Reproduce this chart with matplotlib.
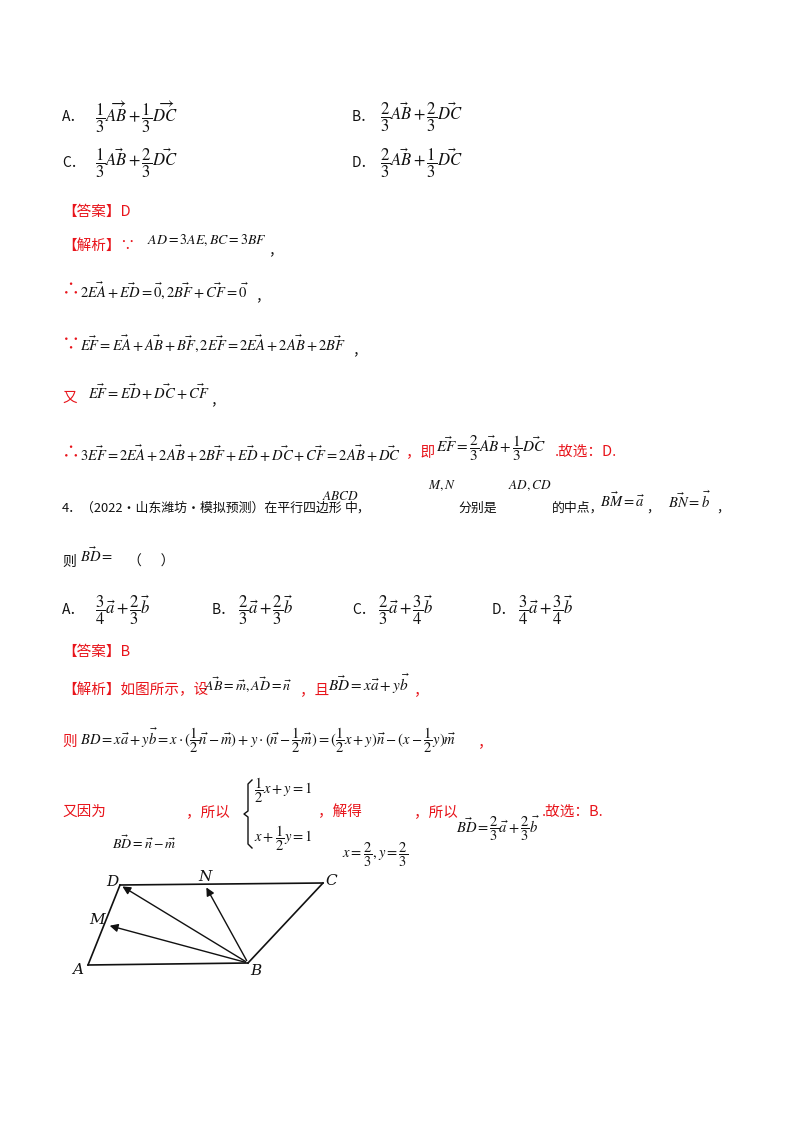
import matplotlib
matplotlib.use("Agg")
import matplotlib.pyplot as plt

plt.rcParams['font.family'] = ['Noto Sans CJK SC', 'DejaVu Sans']
plt.rcParams['mathtext.fontset'] = 'stix'

# parallelogram figure data (pixel coords of the sketch)
pt_names = ['A', 'B', 'C', 'D', 'N', 'M']
pt_x = [88, 248, 323, 120, 205, 107]
pt_y = [965, 963, 883, 885, 885, 925]
label_dx = [-10, 8, 8, -8, 0, -10]
label_dy = [5, 8, -2, -3, -8, -5]
edges = [('A', 'B'), ('B', 'C'), ('C', 'D'), ('D', 'A')]
arrows = [('B', 'D'), ('B', 'N'), ('B', 'M')]

RED = '#e8141b'
BLK = '#111111'

lines = [
    (62, 117, 'A．', BLK, 10), (352, 117, 'B．', BLK, 10),
    (62, 163, 'C．', BLK, 10), (352, 163, 'D．', BLK, 10),
    (62, 212, '【答案】D', RED, 10.5),
    (62, 246, '【解析】∵', RED, 10.5),
    (62, 290, '∴', RED, 13),
    (62, 345, '∵', RED, 13),
    (62, 398, '又', RED, 10.5),
    (62, 453, '∴', RED, 13),
    (62, 508, '4．（2022·山东潍坊·模拟预测）在平行四边形', BLK, 9.3),
    (62, 562, '则', BLK, 10),
    (62, 610, 'A．', BLK, 10), (212, 610, 'B．', BLK, 10),
    (352, 610, 'C．', BLK, 10), (492, 610, 'D．', BLK, 10),
    (62, 652, '【答案】B', RED, 10.5),
    (62, 690, '【解析】如图所示，设', RED, 10.5),
    (62, 742, '则', RED, 10.5),
    (62, 812, '又因为', RED, 10.5),
]
math_lines = [
    (95, 117, r'$\dfrac{1}{3}\overrightarrow{AB}+\dfrac{1}{3}\overrightarrow{DC}$', 12),
    (380, 117, r'$\dfrac{2}{3}\vec{AB}+\dfrac{2}{3}\vec{DC}$', 12),
    (95, 163, r'$\dfrac{1}{3}\vec{AB}+\dfrac{2}{3}\vec{DC}$', 12),
    (380, 163, r'$\dfrac{2}{3}\vec{AB}+\dfrac{1}{3}\vec{DC}$', 12),
    (147, 240, r'$AD=3AE,BC=3BF$', 10), (268, 250, '，', 10),
    (80, 290, r'$2\vec{EA}+\vec{ED}=\vec{0},2\vec{BF}+\vec{CF}=\vec{0}$', 10.5), (255, 296, '，', 10),
    (80, 343, r'$\vec{EF}=\vec{EA}+\vec{AB}+\vec{BF},2\vec{EF}=2\vec{EA}+2\vec{AB}+2\vec{BF}$', 10.5), (352, 350, '，', 10),
    (88, 392, r'$\vec{EF}=\vec{ED}+\vec{DC}+\vec{CF}$', 10.5), (210, 400, '，', 10),
    (80, 453, r'$3\vec{EF}=2\vec{EA}+2\vec{AB}+2\vec{BF}+\vec{ED}+\vec{DC}+\vec{CF}=2\vec{AB}+\vec{DC}$', 10.5),
    (436, 448, r'$\vec{EF}=\dfrac{2}{3}\vec{AB}+\dfrac{1}{3}\vec{DC}$', 11),
    (322, 496, r'$ABCD$', 9.5), (428, 486, r'$M,N$', 9.5), (508, 486, r'$AD,CD$', 9.5),
    (600, 500, r'$\vec{BM}=\vec{a}$', 10.5), (668, 500, r'$\vec{BN}=\vec{b}$', 10.5),
    (80, 555, r'$\vec{BD}=$', 10.5),
    (95, 610, r'$\dfrac{3}{4}\vec{a}+\dfrac{2}{3}\vec{b}$', 12),
    (238, 610, r'$\dfrac{2}{3}\vec{a}+\dfrac{2}{3}\vec{b}$', 12),
    (378, 610, r'$\dfrac{2}{3}\vec{a}+\dfrac{3}{4}\vec{b}$', 12),
    (518, 610, r'$\dfrac{3}{4}\vec{a}+\dfrac{3}{4}\vec{b}$', 12),
    (204, 685, r'$\vec{AB}=\vec{m},\vec{AD}=\vec{n}$', 10),
    (328, 684, r'$\vec{BD}=x\vec{a}+y\vec{b}$', 11),
    (80, 740, r'$BD=x\vec{a}+y\vec{b}=x\cdot(\dfrac{1}{2}\vec{n}-\vec{m})+y\cdot(\vec{n}-\dfrac{1}{2}\vec{m})=(\dfrac{1}{2}x+y)\vec{n}-(x-\dfrac{1}{2}y)\vec{m}$', 10.5),
    (112, 843, r'$\vec{BD}=\vec{n}-\vec{m}$', 10),
    (254, 790, r'$\dfrac{1}{2}x+y=1$', 10.5), (254, 838, r'$x+\dfrac{1}{2}y=1$', 10.5),
    (342, 855, r'$x=\dfrac{2}{3},y=\dfrac{2}{3}$', 10.5),
    (456, 828, r'$\vec{BD}=\dfrac{2}{3}\vec{a}+\dfrac{2}{3}\vec{b}$', 10.5),
]
red_extra = [
    (406, 452, '，即', 10.5), (555, 452, '.故选：D.', 10.5),
    (345, 508, '中，', 9.3, BLK), (458, 508, '分别是', 9.3, BLK), (552, 508, '的中点，', 9.3, BLK),
    (646, 508, '，', 9.3, BLK), (716, 508, '，', 9.3, BLK), (128, 562, '（      ）', 10, BLK),
    (300, 690, '，且', 10.5), (414, 690, '，', 10.5), (478, 742, '，', 10.5),
    (186, 812, '，所以', 10.5), (318, 812, '，解得', 10.5), (414, 812, '，所以', 10.5), (542, 812, '.故选：B.', 10.5),
]

fig = plt.figure(figsize=(8, 11.32), dpi=100)
ax = fig.add_axes([0, 0, 1, 1])
ax.set_xlim(0, 800)
ax.set_ylim(1132, 0)
ax.axis('off')

for x, y, t, c, s in lines:
    ax.text(x, y, t, color=c, fontsize=s, va='center', ha='left')
for x, y, t, s in math_lines:
    ax.text(x, y, t, color=BLK, fontsize=s, va='center', ha='left')
for item in red_extra:
    x, y, t, s = item[:4]
    c = item[4] if len(item) > 4 else RED
    ax.text(x, y, t, color=c, fontsize=s, va='center', ha='left')

# brace for the equation system (drawn as a path, not text)
bx, by0, by1 = 248, 780, 848
bm = (by0 + by1) / 2
ax.plot([bx + 4, bx, bx, bx - 4, bx, bx, bx + 4],
        [by0, by0 + 4, bm - 3, bm, bm + 3, by1 - 4, by1], color=BLK, lw=1.0)

P = {n: (x, y) for n, x, y in zip(pt_names, pt_x, pt_y)}
for a, b in edges:
    ax.plot([P[a][0], P[b][0]], [P[a][1], P[b][1]], color=BLK, lw=1.2)
for a, b in arrows:
    ax.annotate('', xy=P[b], xytext=P[a],
                arrowprops=dict(arrowstyle='-|>', color=BLK, lw=1.0, mutation_scale=12))
for n, x, y, dx, dy in zip(pt_names, pt_x, pt_y, label_dx, label_dy):
    ax.text(x + dx, y + dy, n, fontsize=11, style='italic', family='DejaVu Serif',
            ha='center', va='center', color=BLK)

fig.savefig('out.png', dpi=100)
